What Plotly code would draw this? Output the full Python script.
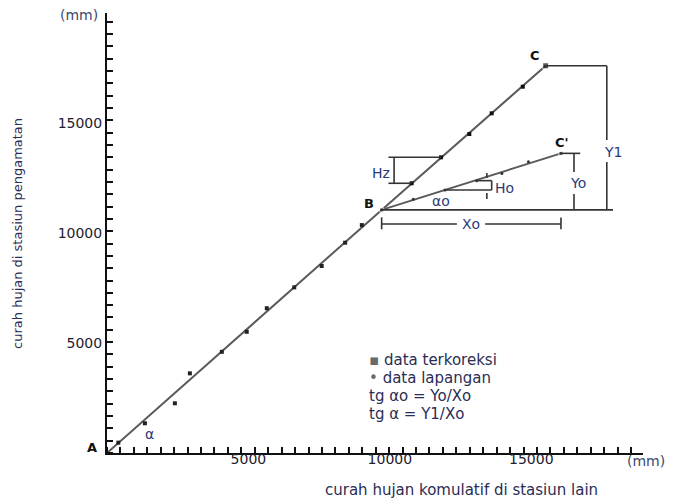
import plotly.graph_objects as go

# ---------------- data ----------------
# field data on the straight part A-B (mm)
obs_x = [400, 1340, 2400, 2930, 4060, 4940, 5650, 6620, 7590, 8420, 9010]
obs_y = [470, 1350, 2260, 3620, 4600, 5510, 6580, 7530, 8500, 9560, 10360]

# key points
A = (0, 0)
B = (9710, 11050)
C = (15510, 17600)
C2 = (16050, 13620)   # C'

# corrected data between B and C
corr_x = [10770, 11810, 12810, 13600, 14700]
corr_y = [12260, 13440, 14500, 15440, 16650]

# field data between B and C'
field_x = [10830, 11950, 13070, 13960, 14900]
field_y = [11530, 11955, 12380, 12710, 13240]

tick_vals = [5000, 10000, 15000]
tick_text = ["5000", "10000", "15000"]

legend_marks = ["▪", "•", "", ""]
legend_rows = ["data terkoreksi", "data lapangan", "tg αo = Yo/Xo", "tg α = Y1/Xo"]

x_title = "curah hujan komulatif di stasiun lain"
y_title = "curah hujan di stasiun pengamatan"

# ---------------- figure ----------------
FONT = "DejaVu Sans"
LINE_C = "#5a5a5a"
BR_C = "#333333"
LAB_C = "#2b3a78"
TXT_C = "#2a2d55"

fig = go.Figure()

# main line A-B-C
fig.add_trace(go.Scatter(x=[A[0], B[0], C[0]], y=[A[1], B[1], C[1]], mode="lines",
                         line=dict(color=LINE_C, width=2), hoverinfo="skip", showlegend=False))
# line B-C'
fig.add_trace(go.Scatter(x=[B[0], C2[0]], y=[B[1], C2[1]], mode="lines",
                         line=dict(color=LINE_C, width=2), hoverinfo="skip", showlegend=False))
# field data A-B
fig.add_trace(go.Scatter(x=obs_x, y=obs_y, mode="markers",
                         marker=dict(symbol="square", size=4, color="#222222"), showlegend=False))
# corrected data
fig.add_trace(go.Scatter(x=corr_x, y=corr_y, mode="markers",
                         marker=dict(symbol="square", size=4, color="#111111"), showlegend=False))
# field data B-C'
fig.add_trace(go.Scatter(x=field_x, y=field_y, mode="markers",
                         marker=dict(symbol="circle", size=3, color="#333333"), showlegend=False))
# key points
fig.add_trace(go.Scatter(x=[B[0], C[0], C2[0]], y=[B[1], C[1], C2[1]], mode="markers",
                         marker=dict(symbol="square", size=[4, 6, 4], color="#111111"), showlegend=False))

# ---------------- bracket lines ----------------
Bx, By = B
Cx, Cy = C
C2x, C2y = C2
base_end = 17890
y1_x = 17670
yo_x = 16510
xo_y = 10410
hz_x0, hz_x = 9950, 10150
ho_x = 13600
ho_tick_x = 13430

segs = [
    (Bx, By, base_end, By),
    (Cx, Cy, y1_x, Cy),
    (y1_x, Cy, y1_x, 14230),
    (y1_x, 13230, y1_x, By),
    (C2x, C2y, 16730, C2y),
    (yo_x, C2y, yo_x, 12770),
    (yo_x, 11770, yo_x, By),
    (Bx, xo_y, 12370, xo_y),
    (13370, xo_y, C2x, xo_y),
    (Bx, xo_y - 240, Bx, xo_y + 300),
    (C2x, xo_y - 240, C2x, xo_y + 300),
    (hz_x0, corr_y[1], corr_x[1], corr_y[1]),
    (hz_x0, corr_y[0], corr_x[0], corr_y[0]),
    (hz_x, corr_y[0], hz_x, corr_y[1]),
    (field_x[2], field_y[2], ho_x, field_y[2]),
    (field_x[1], field_y[1], ho_x, field_y[1]),
    (ho_x, field_y[1], ho_x, field_y[2]),
    (ho_tick_x, 12500, ho_tick_x, 12730),
    (ho_tick_x, 11550, ho_tick_x, 11820),
]
for x0, y0, x1, y1 in segs:
    fig.add_shape(type="line", xref="x", yref="y", x0=x0, y0=y0, x1=x1, y1=y1,
                  line=dict(color=BR_C, width=1.6))

# ---------------- labels ----------------
def lab(x, y, text, size=14, color=LAB_C, xanchor="center", **kw):
    fig.add_annotation(x=x, y=y, xref="x", yref="y", text=text, showarrow=False,
                       xanchor=xanchor, yanchor="middle",
                       font=dict(family=FONT, size=size, color=color), **kw)

lab(9690, 12714, "Hz")
lab(13650, 12060, "Ho", xanchor="left")
lab(11810, 11455, "αo")
lab(1520, 864, "α")
lab(12870, xo_y, "Xo")
lab(16655, 12273, "Yo")
lab(17875, 13695, "Y1")

# point letters
lab(A[0], A[1], "<b>A</b>", size=13, color="#111111", xshift=-15, yshift=6)
lab(Bx, By, "<b>B</b>", size=13, color="#111111", xshift=-13, yshift=6)
lab(Cx, Cy, "<b>C</b>", size=13, color="#111111", xshift=-11, yshift=10)
lab(C2x, C2y, "<b>C'</b>", size=13, color="#111111", xshift=1, yshift=11)

# legend block
leg_y = [4227, 3409, 2591, 1773]
for m, t, yy in zip(legend_marks, legend_rows, leg_y):
    txt = (f"<span style='color:#6a6a6a'>{m}</span> {t}") if m else t
    lab(9183, yy, txt, size=15, color=TXT_C, xanchor="left")

# axis titles and units
def paper_text(x, y, text, size, color, angle=0):
    fig.add_annotation(x=x, y=y, xref="paper", yref="paper", text=text, showarrow=False,
                       xanchor="center", yanchor="middle", textangle=angle,
                       font=dict(family=FONT, size=size, color=color))

paper_text(0.662, -0.084, x_title, 15, TXT_C)
paper_text(-0.166, 0.498, y_title, 13, TXT_C, angle=-90)
paper_text(-0.052, 0.995, "(mm)", 14, "#3b4a6b")
paper_text(1.005, -0.018, "(mm)", 14, "#3b4a6b")

axis_common = dict(
    showgrid=False, zeroline=False, showline=True, linecolor="#111111", linewidth=2,
    tickmode="array", tickvals=tick_vals, ticktext=tick_text, ticks="",
    tickfont=dict(family=FONT, size=14, color="#1e2030"),
)
fig.update_xaxes(range=[0, 18950], ticklabelstandoff=-8, **axis_common,
                 minor=dict(ticks="inside", tick0=0, dtick=475, ticklen=6, tickwidth=2, tickcolor="#111111"))
fig.update_yaxes(range=[0, 20000], **axis_common,
                 minor=dict(ticks="inside", tick0=0, dtick=560, ticklen=6, tickwidth=2, tickcolor="#111111"))

# page body has an 8px margin: figure is sized/margined so the plot area lands where the reference has it
fig.update_layout(
    width=667, height=491,
    margin=dict(l=99, r=32, t=5, b=46),
    plot_bgcolor="white", paper_bgcolor="white",
    showlegend=False,
    font=dict(family=FONT),
)

fig.write_html("out.html")
